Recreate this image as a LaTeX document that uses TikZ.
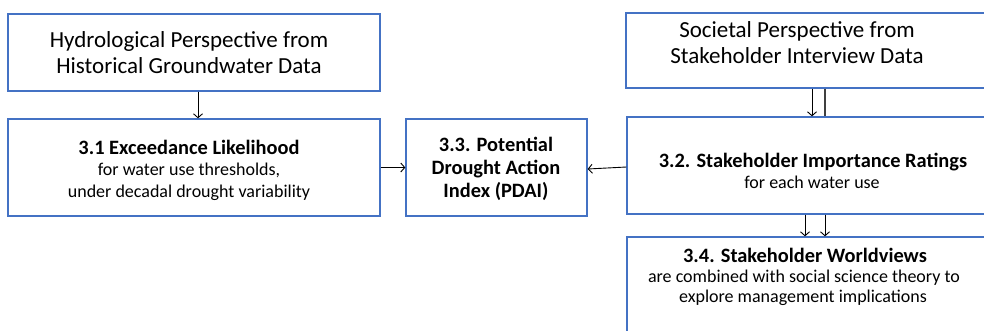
\documentclass[tikz,border=0pt]{standalone}
\usepackage{fontspec}
\setmainfont{Carlito}
\usetikzlibrary{arrows.meta,calc}
\definecolor{boxblue}{RGB}{68,114,196}
\tikzset{
  box/.style={draw=boxblue, line width=1.3pt, fill=white, rectangle, inner sep=0pt},
  arr/.style={draw=black, line width=0.9pt, -{Straight Barb[length=4pt,width=9pt]}},
  plain/.style={draw=black!75, line width=1.1pt},
  line/.style={anchor=base, inner sep=0pt},
  big/.style={line, font=\fontsize{23}{27}\selectfont},
  head/.style={line, font=\fontsize{20.4}{24}\selectfont\bfseries},
  sub/.style={line, font=\fontsize{18}{22}\selectfont},
}
\begin{document}
\begin{tikzpicture}[x=1pt,y=-1pt]
\useasboundingbox (0,0) rectangle (984,330);
\clip (0,0) rectangle (984,330);
\fill[white] (0,0) rectangle (984,330);

% frames
\node[box, minimum width=372, minimum height=77] (hyd) at (194,52.5) {};
\node[box, minimum width=372, minimum height=97] (el) at (194,167.5) {};
\node[box, minimum width=181, minimum height=97] (pdai) at (496.5,167.5) {};
\node[box, minimum width=380, minimum height=75] (soc) at (816,50.5) {};
\node[box, minimum width=380, minimum height=97] (sir) at (817,165.5) {};
\node[box, minimum width=380, minimum height=110] (sw) at (817,292) {};

% hydrological source
\node[big] (hyd1) at (189,47) {Hydrological Perspective from};
\node[big] (hyd2) at (189,73) {Historical Groundwater Data};

% 3.1
\node[head] (el1) at (189,154) {3.1 Exceedance Likelihood};
\node[sub]  (el2) at (189,175) {for water use thresholds,};
\node[sub]  (el3) at (189,197) {under decadal drought variability};

% 3.3
\node[head] (pd1) at (496,151) {3.3. Potential};
\node[head] (pd2) at (496,174) {Drought Action};
\node[head] (pd3) at (496,197) {Index (PDAI)};

% societal source
\node[big] (soc1) at (797,37) {Societal Perspective from};
\node[big] (soc2) at (797,63) {Stakeholder Interview Data};

% 3.2
\node[head] (sir1) at (813,167) {3.2. Stakeholder Importance Ratings};
\node[sub]  (sir2) at (812,188) {for each water use};

% 3.4
\node[head] (sw1) at (805,262) {3.4. Stakeholder Worldviews};
\node[sub]  (sw2) at (804,282) {are combined with social science theory to};
\node[sub]  (sw3) at (803,302) {explore management implications};

% connector columns
\coordinate (ca) at (812,0);
\coordinate (cb) at (825,0);
\coordinate (cc) at (805,0);

% connectors
\draw[arr] ([xshift=4]hyd.south) -- ([xshift=4]el.north);
\draw[arr] (el.east) -- (pdai.west);
\draw[arr] ([yshift=-1.5]sir.west) -- ([yshift=-1.5]pdai.east);
\draw[arr] (soc.south -| ca) -- (sir.north -| ca);
\draw[plain] (soc.south -| cb) -- (sir.north -| cb);
\draw[arr] (sir.south -| cc) -- (sw.north -| cc);
\draw[arr] (sir.south -| cb) -- (sw.north -| cb);
\end{tikzpicture}
\end{document}
